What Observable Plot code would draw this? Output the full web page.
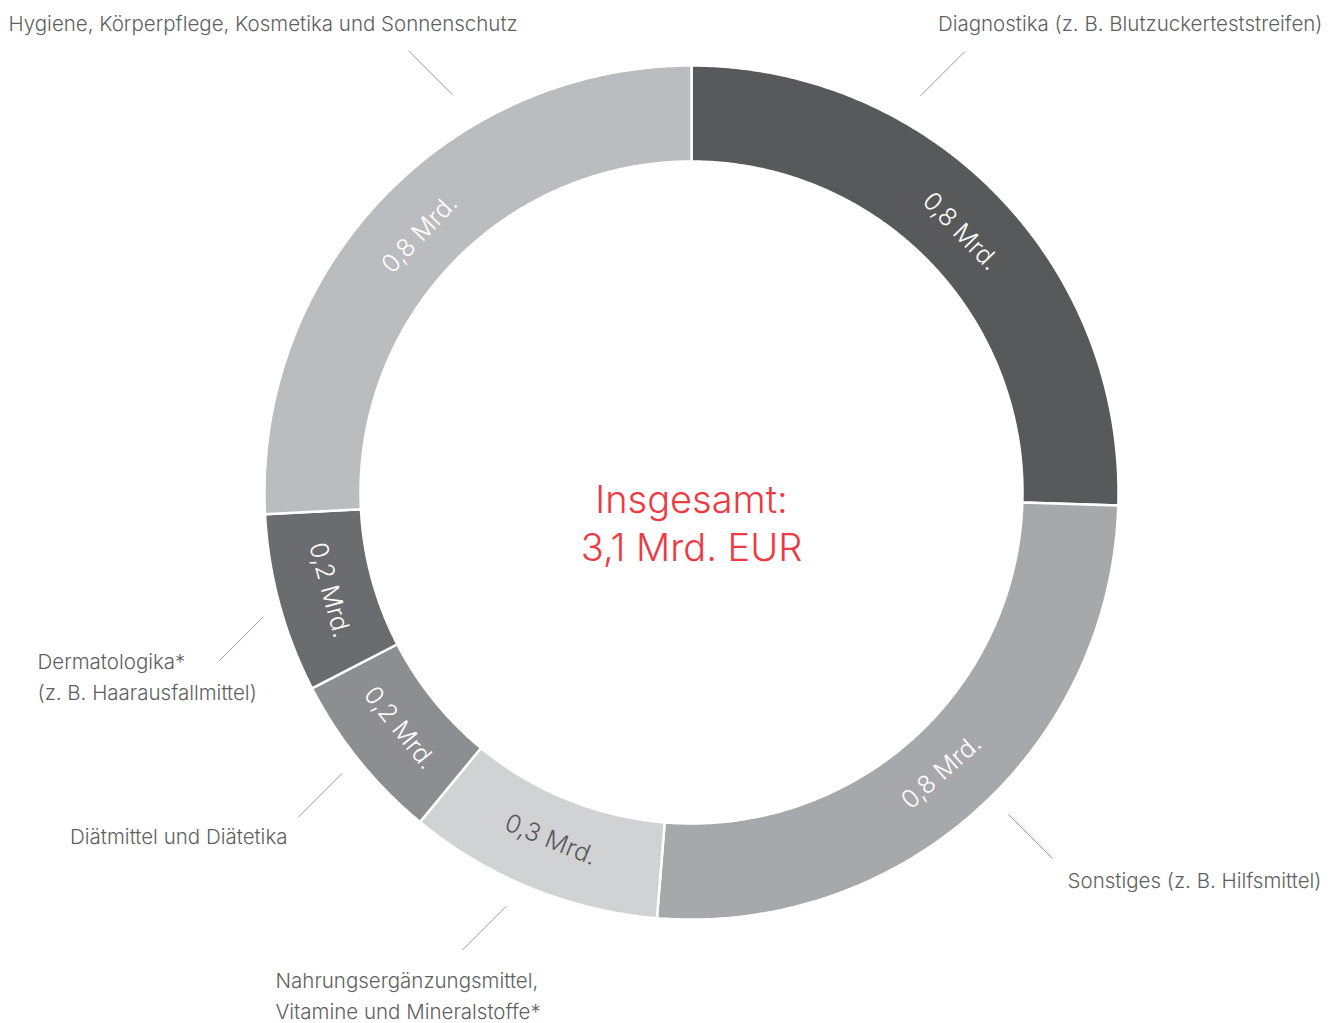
<!DOCTYPE html>
<html>
<head>
<meta charset="utf-8">
<script src="https://cdn.jsdelivr.net/npm/d3@7"></script>
<script src="https://cdn.jsdelivr.net/npm/@observablehq/plot@0.6"></script>
<style>
  html, body { margin: 0; padding: 0; background: #fff; }
  #chart svg { display: block; }
</style>
</head>
<body>
<div id="chart"></div>
<script>
// ---- data ----
const categories = [
  "Diagnostika (z. B. Blutzuckerteststreifen)",
  "Sonstiges (z. B. Hilfsmittel)",
  "Nahrungsergänzungsmittel,\nVitamine und Mineralstoffe*",
  "Diätmittel und Diätetika",
  "Dermatologika*\n(z. B. Haarausfallmittel)",
  "Hygiene, Körperpflege, Kosmetika und Sonnenschutz"
];
const values = [0.79, 0.80, 0.30, 0.20, 0.21, 0.80];
const valueLabels = ["0,8 Mrd.", "0,8 Mrd.", "0,3 Mrd.", "0,2 Mrd.", "0,2 Mrd.", "0,8 Mrd."];
const totalLabel = "Insgesamt:\n3,1 Mrd. EUR";

// ---- styling / layout ----
const sliceColors = ["#58595b", "#a7a8ab", "#d1d2d4", "#8d8e91", "#6b6c6f", "#bbbcbf"];
const valueTextColors = ["#ffffff", "#ffffff", "#58595b", "#ffffff", "#ffffff", "#ffffff"];
const W = 1336, H = 1023;
const cx = 691, cy = 492, rOuter = 427, rInner = 331, rLabel = 375;
// leader lines: anchor angle (deg, clockwise from top) and radius of inner end
const leaderAngle = [30.0, 135.45, 204.1, 231.2, 253.8, 329.0];
const leaderRadius = [458, 452, 453, 448, 446, 464];
const leaderLen = 44;
// outer label placement
const catLabelX = [1322, 1321, 275, 287, 37, 8];
const catLabelY = [21, 878, 993.5, 834, 674.5, 21];
const catLabelAnchor = ["end", "end", "start", "end", "start", "start"];

const FONT = "Inter, 'Helvetica Neue', Arial, sans-serif";

const rad = d => d * Math.PI / 180;
const px = (a, r) => cx + r * Math.sin(rad(a));
const py = (a, r) => cy - r * Math.cos(rad(a));

const total = d3.sum(values);
let acc = 0;
const slices = values.map((v, i) => {
  const a0 = acc / total * 360;
  acc += v;
  const a1 = acc / total * 360;
  return {i, name: categories[i], value: v, a0, a1, mid: (a0 + a1) / 2};
});

// polygon vertices of each ring slice
const poly = [];
slices.forEach(s => {
  const n = Math.max(8, Math.ceil((s.a1 - s.a0) * 2));
  for (let k = 0; k <= n; k++) {
    const a = s.a0 + (s.a1 - s.a0) * k / n;
    poly.push({id: s.i, fill: sliceColors[s.i], x: px(a, rOuter), y: py(a, rOuter)});
  }
  for (let k = n; k >= 0; k--) {
    const a = s.a0 + (s.a1 - s.a0) * k / n;
    poly.push({id: s.i, fill: sliceColors[s.i], x: px(a, rInner), y: py(a, rInner)});
  }
  poly.push({id: s.i, fill: sliceColors[s.i], x: px(s.a0, rOuter), y: py(s.a0, rOuter)});
});

const valueText = slices.map(s => ({
  text: valueLabels[s.i],
  x: px(s.mid, rLabel),
  y: py(s.mid, rLabel),
  rotate: (s.mid > 90 && s.mid < 270) ? s.mid - 180 : (s.mid >= 270 ? s.mid - 360 : s.mid),
  color: valueTextColors[s.i]
}));

const leaders = slices.map(s => {
  const a = leaderAngle[s.i], r = leaderRadius[s.i];
  const x1 = px(a, r), y1 = py(a, r);
  const sx = Math.sign(Math.sin(rad(a))), sy = -Math.sign(Math.cos(rad(a)));
  return {x1, y1, x2: x1 + sx * leaderLen, y2: y1 + sy * leaderLen};
});

const outerText = slices.map(s => ({
  text: categories[s.i], x: catLabelX[s.i], y: catLabelY[s.i], anchor: catLabelAnchor[s.i]
}));

const chart = Plot.plot({
  width: W,
  height: H,
  margin: 0,
  x: {domain: [0, W], range: [0, W], axis: null},
  y: {domain: [0, H], range: [0, H], axis: null},
  color: {type: "identity"},
  style: {fontFamily: FONT, background: "#fff"},
  marks: [
    Plot.line(poly, {x: "x", y: "y", z: "id", fill: "fill", stroke: "#fff", strokeWidth: 2.5, strokeLinejoin: "miter", curve: "linear"}),
    Plot.text(valueText, {x: "x", y: "y", text: "text", rotate: "rotate", fill: "color", fontSize: 25, fontWeight: 300, fontFamily: FONT, textAnchor: "middle", lineAnchor: "middle"}),
    Plot.link(leaders, {x1: "x1", y1: "y1", x2: "x2", y2: "y2", stroke: "#9a9b9d", strokeWidth: 1}),
    ...["start", "end"].map(anc => Plot.text(outerText.filter(d => d.anchor === anc), {x: "x", y: "y", text: "text", textAnchor: anc, lineAnchor: "middle", fill: "#5e5f61", fontSize: 20.5, fontWeight: 300, fontFamily: FONT, lineHeight: 1.51})),
    Plot.text([totalLabel], {x: [cx], y: [cy + 29], text: d => d, fill: "#ee3a43", fontSize: 38, fontWeight: 300, fontFamily: FONT, textAnchor: "middle", lineAnchor: "middle", lineHeight: 1.26})
  ]
});
document.getElementById("chart").appendChild(chart);
</script>
</body>
</html>
